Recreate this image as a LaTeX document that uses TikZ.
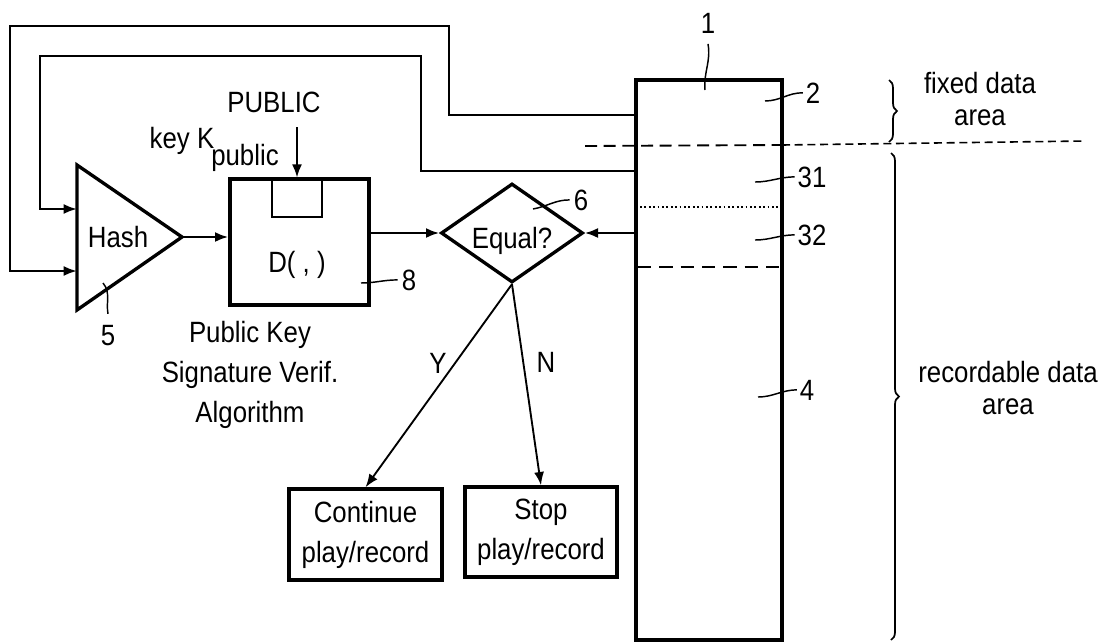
\documentclass[tikz,border=0pt]{standalone}
\usepackage{fontspec}
\setmainfont{Liberation Sans}[FakeStretch=0.88]
\usetikzlibrary{shapes.geometric,arrows.meta,decorations.pathreplacing}
\begin{document}
\begin{tikzpicture}[x=0.75pt,y=-0.75pt,
  txt/.style={font=\fontsize{22}{30}\selectfont, inner sep=0pt},
  lbl/.style={txt, anchor=base},
  heavy/.style={draw, line width=2.5pt, inner sep=0pt},
  conn/.style={line width=1.8pt},
  arr/.style={conn, -{Latex[length=10pt,width=7.5pt]}},
  lead/.style={line width=1.1pt},
  brc/.style={line width=1.3pt, decorate, decoration={brace, amplitude=6pt}},
]
\useasboundingbox (0,0) rectangle (1111,643);

% storage medium
\node[heavy, line width=2.8pt, minimum width=109.5pt, minimum height=420pt] (disc) at (709,360) {};

% hash triangle
\coordinate (ttop) at (77,165);
\coordinate (tbot) at (77,310);
\coordinate (apex) at (182,237);
\draw[line width=2.5pt, line join=miter] (ttop) -- (apex) -- (tbot) -- cycle;
\node[lbl] (hash) at (118,247) {Hash};

% decryption box
\node[heavy, minimum width=104.25pt, minimum height=94.5pt] (dbox) at (299.5,242) {};
\node[draw, line width=1.9pt, minimum width=37.5pt, minimum height=28.5pt, inner sep=0pt] (slot) at (297,198) {};
\node[lbl] (dtxt) at (297,272) {D( , )};

% comparison
\node[heavy, diamond, aspect=1.43, minimum width=106.5pt, minimum height=74.25pt] (eq) at (512,233) {};
\node[lbl] (eqtxt) at (512,248) {Equal?};

% result boxes
\node[txt, heavy, align=center, minimum width=114.75pt, minimum height=68.25pt] (cont) at (365.5,534.5) {Continue\\play/record};
\node[txt, heavy, align=center, minimum width=114pt, minimum height=67.5pt] (stop) at (541,532) {Stop\\play/record};

% texts
\node[lbl] (kk) at (182,148) {key K};
\node[lbl] (kp) at (245,165) {public};
\node[lbl] (pub) at (274,112) {PUBLIC};
\node[txt, align=center] (alg) at (250,375) {Public Key\\Signature Verif.\\Algorithm};
\node[txt, font=\fontsize{22}{24}\selectfont, align=center] (fixed) at (980,99) {fixed data\\area};
\node[txt, font=\fontsize{22}{24}\selectfont, align=center] (rec) at (1008,388) {recordable data\\area};
\node[lbl] (ly) at (438,373) {Y};
\node[lbl] (ln) at (546,372) {N};

% reference numerals
\node[lbl] (l1) at (708,33) {1};
\node[lbl] (l2) at (813,103) {2};
\node[lbl] (l31) at (812,187) {31};
\node[lbl] (l32) at (812,245) {32};
\node[lbl] (l4) at (807,400) {4};
\node[lbl] (l5) at (108,345) {5};
\node[lbl] (l6) at (581,210) {6};
\node[lbl] (l8) at (409,290) {8};

% feedback loops
\coordinate (o1) at (636,115);
\coordinate (i1) at (636,171);
\coordinate (inA) at (77,209);
\coordinate (inB) at (77,271);
\draw[arr] (o1) -- (449,115) -- (449,26) -- (10,26) -- (10,271) -- (inB);
\draw[arr] (i1) -- (421,171) -- (421,56) -- (40,56) -- (40,209) -- (inA);

% signal flow
\coordinate (kin) at (297,127);
\draw[arr] (kin) -- (slot.north);
\draw[arr] (apex) -- (apex -| dbox.west);
\draw[arr] (dbox.east |- eq.west) -- (eq.west);
\draw[arr] (disc.west |- eq.east) -- (eq.east);
\draw[arr, line width=1.4pt] (eq.south) -- (cont.north);
\draw[arr, line width=1.4pt] (eq.south) -- (stop.north);

% area separators
\coordinate (dL) at (585,146);
\coordinate (dM) at (782,145);
\coordinate (dR) at (1085,141);
\draw[line width=1.4pt, dash pattern=on 9pt off 5pt] (dL) -- (dM);
\draw[line width=1.2pt, dash pattern=on 6pt off 3.5pt] (dM) -- (dR);
\draw[line width=1.3pt, dotted] (640,207) -- (778,207);
\draw[line width=1.6pt, dash pattern=on 10pt off 6pt] (638,267) -- (782,267);

% braces
\draw[brc] (889,80) -- (889,142);
\draw[brc] (891,153) -- (891,640);

% leader lines
\coordinate (c1) at (705,90);
\coordinate (c2) at (765,101);
\coordinate (c31) at (755,182);
\coordinate (c32) at (755,240);
\coordinate (c4) at (758,397);
\coordinate (c5) at (103,283);
\coordinate (c6) at (533,209);
\coordinate (c8) at (361,283);
\draw[lead] ([yshift=-8pt]l1.south) to[out=-80,in=95] (c1);
\draw[lead] (c2) to[out=0,in=180] ([xshift=-2pt]l2.west);
\draw[lead] (c31) to[out=0,in=180] ([xshift=-2pt]l31.west);
\draw[lead] (c32) to[out=0,in=180] ([xshift=-2pt]l32.west);
\draw[lead] (c4) to[out=0,in=180] ([xshift=-2pt]l4.west);
\draw[lead] (c5) to[out=-50,in=100] ([yshift=8pt]l5.north);
\draw[lead] (c6) to[out=10,in=180] ([xshift=-3pt]l6.west);
\draw[lead] (c8) to[out=0,in=180] ([xshift=-3pt]l8.west);
\end{tikzpicture}
\end{document}
